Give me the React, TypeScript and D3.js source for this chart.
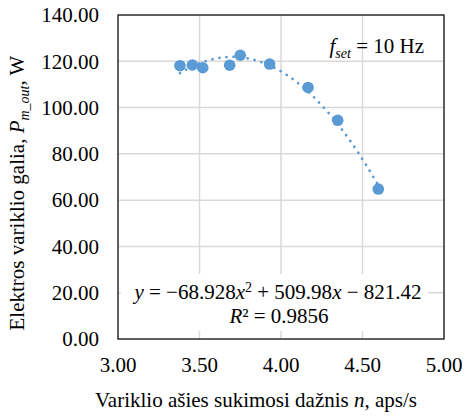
import React from "react";
import * as d3 from "d3";

const nValues = [3.38, 3.456, 3.52, 3.685, 3.75, 3.93, 4.166, 4.348, 4.597];
const powerValues = [118.1, 118.4, 117.2, 118.3, 122.6, 118.8, 108.7, 94.5, 64.8];
const trendCoefs = [-68.928, 509.98, -821.42];
const xTicks = [3.0, 3.5, 4.0, 4.5, 5.0];
const yTicks = [0, 20, 40, 60, 80, 100, 120, 140];

const W = 465;
const H = 419;
const M = { left: 118, right: 444, top: 15, bottom: 339 };
const COLOR = "#5B9BD5";
const FONT = "Liberation Serif, Times New Roman, DejaVu Serif, serif";
const FS = 21;
const SUB = 14;

export default function App() {
  const x = d3.scaleLinear().domain([3, 5]).range([M.left, M.right]);
  const y = d3.scaleLinear().domain([0, 140]).range([M.bottom, M.top]);

  const xMin = d3.min(nValues)!;
  const xMax = d3.max(nValues)!;
  const trendPts: [number, number][] = d3.range(0, 101).map((i) => {
    const xv = xMin + ((xMax - xMin) * i) / 100;
    const yv = trendCoefs[0] * xv * xv + trendCoefs[1] * xv + trendCoefs[2];
    return [xv, yv];
  });
  const line = d3
    .line<[number, number]>()
    .x((d) => x(d[0]))
    .y((d) => y(d[1]));

  return (
    <svg
      width={W}
      height={H}
      fontFamily={FONT}
      fontSize={FS}
      style={{ position: "absolute", left: 0, top: 0, background: "#fff", fontFamily: FONT }}
    >
      <rect x={0} y={0} width={W} height={H} fill="#fff" />
      {yTicks.map((t) => (
        <line key={"gy" + t} x1={M.left} x2={M.right} y1={y(t)} y2={y(t)} stroke="#d9d9d9" strokeWidth={1.5} />
      ))}
      {xTicks.map((t) => (
        <line key={"gx" + t} x1={x(t)} x2={x(t)} y1={M.top} y2={M.bottom} stroke="#d9d9d9" strokeWidth={1.5} />
      ))}
      <rect x={121} y={274} width={307} height={57} fill="#fff" />
      <path
        d={line(trendPts) || ""}
        fill="none"
        stroke={COLOR}
        strokeWidth={2.7}
        strokeLinecap="round"
        strokeDasharray="0.1 7"
      />
      {nValues.map((n, i) => (
        <circle key={i} cx={x(n)} cy={y(powerValues[i])} r={5.8} fill={COLOR} />
      ))}
      <rect
        x={M.left}
        y={M.top}
        width={M.right - M.left}
        height={M.bottom - M.top}
        fill="none"
        stroke="#1a1a1a"
        strokeWidth={1.3}
      />
      <g fontFamily={FONT} fontSize={FS} fill="#000">
        {yTicks.map((t) => (
          <text key={"ty" + t} x={99} y={y(t)} dy="0.35em" textAnchor="end">
            {t.toFixed(2)}
          </text>
        ))}
        {xTicks.map((t) => (
          <text key={"tx" + t} x={x(t)} y={372} textAnchor="middle">
            {t.toFixed(2)}
          </text>
        ))}
        <text x={256} y={407} textAnchor="middle">
          Variklio ašies sukimosi dažnis <tspan fontStyle="italic">n</tspan>, aps/s
        </text>
        <text transform={`translate(24, 193) rotate(-90)`} textAnchor="middle">
          Elektros variklio galia, <tspan fontStyle="italic">P</tspan>
          <tspan fontStyle="italic" fontSize={SUB} dy={5}>m_out</tspan>
          <tspan dy={-5}>, W</tspan>
        </text>
        <text x={424} y={53} textAnchor="end">
          <tspan fontStyle="italic">f</tspan>
          <tspan fontStyle="italic" fontSize={SUB} dy={5}>set</tspan>
          <tspan dy={-5}> = 10 Hz</tspan>
        </text>
        <text x={278} y={299} textAnchor="middle">
          <tspan fontStyle="italic">y</tspan> = −68.928<tspan fontStyle="italic">x</tspan>
          <tspan fontSize={SUB} dy={-7}>2</tspan>
          <tspan dy={7}> + 509.98</tspan>
          <tspan fontStyle="italic">x</tspan> − 821.42
        </text>
        <text x={279} y={323} textAnchor="middle">
          <tspan fontStyle="italic">R</tspan>² = 0.9856
        </text>
      </g>
    </svg>
  );
}
